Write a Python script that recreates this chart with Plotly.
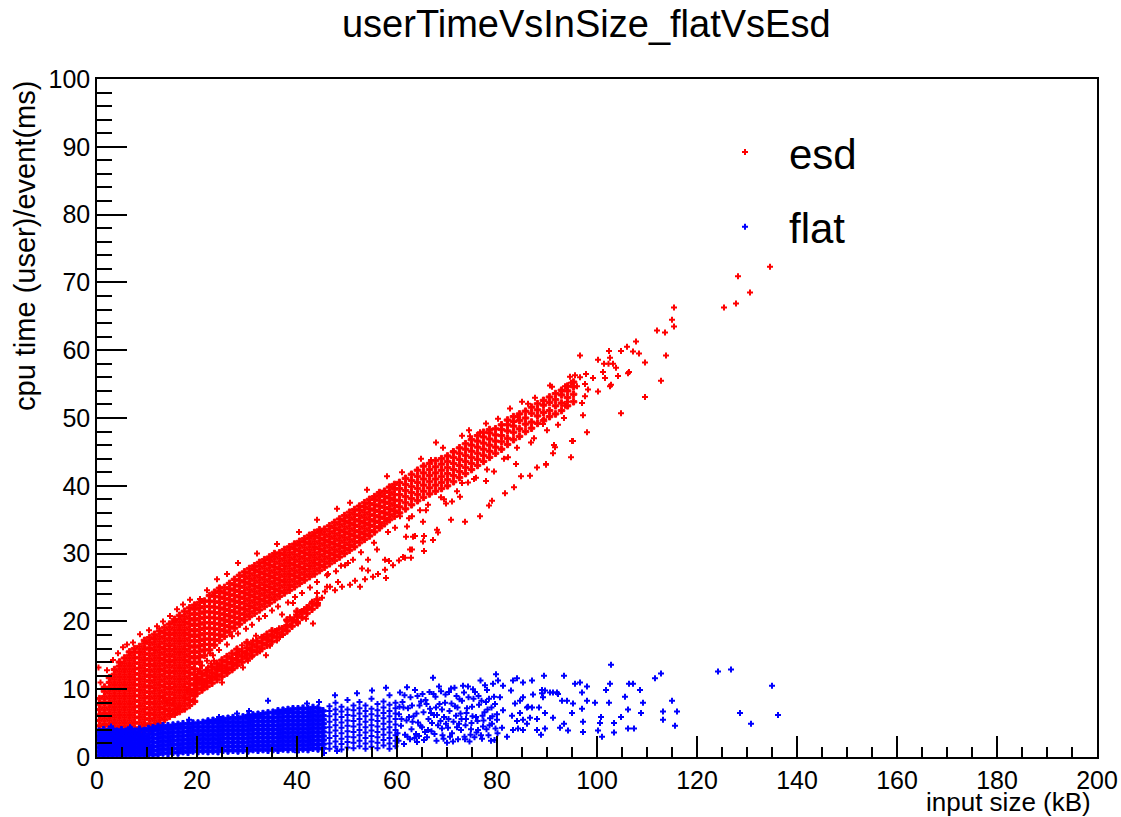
import plotly.graph_objects as go

# esd (red) - dense part: x of a column, then its y values
esd_core_x = [0.5, 1.5, 2.5, 3.5, 4.5, 5.5, 6.5, 7.5, 8.5, 9.5,
              10.5, 11.5, 12.5, 13.5, 14.5, 15.5, 16.5, 17.5, 18.5, 19.5]
esd_core_y = [
    [3.0, 3.8, 4.6, 5.4, 6.2, 7.0, 7.8, 8.6],
    [3.3, 4.1, 4.9, 5.7, 6.5, 7.3, 8.1, 8.9, 9.7, 10.3],
    [3.0, 3.8, 4.6, 5.4, 6.2, 7.0, 7.8, 8.6, 9.4, 10.2, 11.0, 11.7],
    [3.4, 4.2, 5.0, 5.8, 6.6, 7.4, 8.2, 9.0, 9.8, 10.6, 11.4, 12.2, 12.9],
    [3.0, 3.8, 4.6, 5.4, 6.2, 7.0, 7.8, 8.6, 9.4, 10.2, 11.0, 11.8, 12.6, 13.4, 14.0],
    [3.4, 4.2, 5.0, 5.8, 6.6, 7.4, 8.2, 9.0, 9.8, 10.6, 11.4, 12.2, 13.0, 13.8, 14.6],
    [3.0, 3.8, 4.6, 5.4, 6.2, 7.0, 7.8, 8.6, 9.4, 10.2, 11.0, 11.8, 12.6, 13.4, 14.2, 15.0, 15.5],
    [3.4, 4.2, 5.0, 5.8, 6.6, 7.4, 8.2, 9.0, 9.8, 10.6, 11.4, 12.2, 13.0, 13.8, 14.6, 15.4, 16.0],
    [3.5, 4.3, 5.1, 5.9, 6.7, 7.5, 8.3, 9.1, 9.9, 10.7, 11.5, 12.3, 13.1, 13.9, 14.7, 15.5, 16.3],
    [3.9, 4.7, 5.5, 6.3, 7.1, 7.9, 8.7, 9.5, 10.3, 11.1, 11.9, 12.7, 13.5, 14.3, 15.1, 15.9, 16.7, 17.2],
    [4.1, 4.9, 5.7, 6.5, 7.3, 8.1, 8.9, 9.7, 10.5, 11.3, 12.1, 12.9, 13.7, 14.5, 15.3, 16.1, 16.9, 17.6],
    [4.6, 5.4, 6.2, 7.0, 7.8, 8.6, 9.4, 10.2, 11.0, 11.8, 12.6, 13.4, 14.2, 15.0, 15.8, 16.6, 17.4, 18.1],
    [5.0, 5.8, 6.6, 7.4, 8.2, 9.0, 9.8, 10.6, 11.4, 12.2, 13.0, 13.8, 14.6, 15.4, 16.2, 17.0, 17.8, 18.6],
    [5.5, 6.3, 7.1, 7.9, 8.7, 9.5, 10.3, 11.1, 11.9, 12.7, 13.5, 14.3, 15.1, 15.9, 16.7, 17.5, 18.3, 19.1],
    [6.0, 6.8, 7.6, 8.4, 9.2, 10.0, 10.8, 11.6, 12.4, 13.2, 14.0, 14.8, 15.6, 16.4, 17.2, 18.0, 18.8, 19.6],
    [6.3, 7.1, 7.9, 8.7, 9.5, 10.3, 11.1, 11.9, 12.7, 13.5, 14.3, 15.1, 15.9, 16.7, 17.5, 18.3, 19.1, 19.9, 20.3],
    [6.7, 7.5, 8.3, 9.1, 9.9, 10.7, 11.5, 12.3, 13.1, 13.9, 14.7, 15.5, 16.3, 17.1, 17.9, 18.7, 19.5, 20.3, 20.9],
    [7.1, 7.9, 8.7, 9.5, 10.3, 11.1, 11.9, 12.7, 13.5, 14.3, 15.1, 15.9, 16.7, 17.5, 18.3, 19.1, 19.9, 20.7, 21.5],
    [7.6, 8.4, 9.2, 10.0, 10.8, 11.6, 12.4, 13.2, 14.0, 14.8, 15.6, 16.4, 17.2, 18.0, 18.8, 19.6, 20.4, 21.2, 22.0],
    [8.2, 9.0, 9.8, 10.6, 11.4, 12.2, 13.0, 13.8, 14.6, 15.4, 16.2, 17.0, 17.8, 18.6, 19.4, 20.2, 21.0, 21.8, 22.4],
]

esd_band_x = [20.5, 21.5, 22.5, 23.5, 24.5, 25.5, 26.5, 27.5, 28.5, 29.5,
              30.5, 31.5, 32.5, 33.5, 34.5, 35.5, 36.5, 37.5, 38.5, 39.5,
              40.5, 41.5, 42.5, 43.5, 44.5, 45.5, 46.5, 47.5, 48.5, 49.5,
              50.5, 51.5, 52.5, 53.5, 54.5, 55.5, 56.5, 57.5, 58.5, 59.5]
esd_band_y = [
    [14.0, 14.8, 15.6, 16.4, 17.2, 18.0, 18.8, 19.6, 20.4, 21.2, 22.0, 22.8],
    [15.0, 15.8, 16.6, 17.4, 18.2, 19.0, 19.8, 20.6, 21.4, 22.2, 23.0],
    [15.8, 16.6, 17.4, 18.2, 19.0, 19.8, 20.6, 21.4, 22.2, 23.0, 23.8],
    [16.5, 17.3, 18.1, 18.9, 19.7, 20.5, 21.3, 22.1, 22.9, 23.7, 24.3],
    [17.2, 18.0, 18.8, 19.6, 20.4, 21.2, 22.0, 22.8, 23.6, 24.4, 24.9],
    [17.8, 18.6, 19.4, 20.2, 21.0, 21.8, 22.6, 23.4, 24.2, 25.0],
    [18.4, 19.2, 20.0, 20.8, 21.6, 22.4, 23.2, 24.0, 24.8, 25.6],
    [19.0, 19.8, 20.6, 21.4, 22.2, 23.0, 23.8, 24.6, 25.4, 26.2],
    [19.6, 20.4, 21.2, 22.0, 22.8, 23.6, 24.4, 25.2, 26.0, 26.8],
    [20.2, 21.0, 21.8, 22.6, 23.4, 24.2, 25.0, 25.8, 26.6, 27.3],
    [20.7, 21.5, 22.3, 23.1, 23.9, 24.7, 25.5, 26.3, 27.1, 27.8],
    [21.2, 22.0, 22.8, 23.6, 24.4, 25.2, 26.0, 26.8, 27.6, 28.2],
    [21.7, 22.5, 23.3, 24.1, 24.9, 25.7, 26.5, 27.3, 28.1, 28.7],
    [22.2, 23.0, 23.8, 24.6, 25.4, 26.2, 27.0, 27.8, 28.6, 29.1],
    [22.7, 23.5, 24.3, 25.1, 25.9, 26.7, 27.5, 28.3, 29.1, 29.5],
    [23.2, 24.0, 24.8, 25.6, 26.4, 27.2, 28.0, 28.8, 29.6, 30.0],
    [23.7, 24.5, 25.3, 26.1, 26.9, 27.7, 28.5, 29.3, 30.1],
    [24.2, 25.0, 25.8, 26.6, 27.4, 28.2, 29.0, 29.8, 30.6],
    [24.6, 25.4, 26.2, 27.0, 27.8, 28.6, 29.4, 30.2, 31.0],
    [25.1, 25.9, 26.7, 27.5, 28.3, 29.1, 29.9, 30.7, 31.4],
    [25.6, 26.4, 27.2, 28.0, 28.8, 29.6, 30.4, 31.2, 31.8],
    [26.1, 26.9, 27.7, 28.5, 29.3, 30.1, 30.9, 31.7, 32.2],
    [26.6, 27.4, 28.2, 29.0, 29.8, 30.6, 31.4, 32.2, 32.7],
    [27.0, 27.8, 28.6, 29.4, 30.2, 31.0, 31.8, 32.6, 33.1],
    [27.5, 28.3, 29.1, 29.9, 30.7, 31.5, 32.3, 33.1, 33.5],
    [28.0, 28.8, 29.6, 30.4, 31.2, 32.0, 32.8, 33.6],
    [28.5, 29.3, 30.1, 30.9, 31.7, 32.5, 33.3, 34.1],
    [29.0, 29.8, 30.6, 31.4, 32.2, 33.0, 33.8, 34.6],
    [29.5, 30.3, 31.1, 31.9, 32.7, 33.5, 34.3, 35.1],
    [30.0, 30.8, 31.6, 32.4, 33.2, 34.0, 34.8, 35.6],
    [30.5, 31.3, 32.1, 32.9, 33.7, 34.5, 35.3, 36.1],
    [31.0, 31.8, 32.6, 33.4, 34.2, 35.0, 35.8, 36.5],
    [31.6, 32.4, 33.2, 34.0, 34.8, 35.6, 36.4, 37.0],
    [32.1, 32.9, 33.7, 34.5, 35.3, 36.1, 36.9, 37.5],
    [32.6, 33.4, 34.2, 35.0, 35.8, 36.6, 37.4, 38.0],
    [33.2, 34.0, 34.8, 35.6, 36.4, 37.2, 38.0, 38.4],
    [33.8, 34.6, 35.4, 36.2, 37.0, 37.8, 38.6, 39.0],
    [34.4, 35.2, 36.0, 36.8, 37.6, 38.4, 39.2],
    [35.0, 35.8, 36.6, 37.4, 38.2, 39.0, 39.8],
    [35.5, 36.3, 37.1, 37.9, 38.7, 39.5, 40.2],
]

esd_upper_x = [60.5, 61.7, 62.9, 64.1, 65.3, 66.5, 67.7, 68.9, 70.1, 71.3,
               72.5, 73.7, 74.9, 76.1, 77.3, 78.5, 79.7, 80.9, 82.1, 83.3,
               84.5, 85.7, 86.9, 88.1, 89.3, 90.5, 91.7, 92.9, 94.1, 95.3]
esd_upper_y = [
    [36.0, 36.9, 37.8, 38.7, 39.6, 40.5],
    [36.6, 37.5, 38.4, 39.3, 40.2, 41.1],
    [37.2, 38.1, 39.0, 39.9, 40.8, 41.7],
    [37.8, 38.7, 39.6, 40.5, 41.4, 42.3],
    [38.3, 39.2, 40.1, 41.0, 41.9, 42.9],
    [38.8, 39.7, 40.6, 41.5, 42.4, 43.3],
    [39.2, 40.1, 41.0, 41.9, 42.8, 43.7],
    [39.6, 40.5, 41.4, 42.3, 43.2, 44.0],
    [40.0, 40.9, 41.8, 42.7, 43.6, 44.4],
    [40.6, 41.5, 42.4, 43.3, 44.2, 45.0],
    [41.2, 42.1, 43.0, 43.9, 44.8, 45.6],
    [41.8, 42.7, 43.6, 44.5, 45.4, 46.2],
    [42.4, 43.3, 44.2, 45.1, 46.0, 46.8],
    [43.0, 43.9, 44.8, 45.7, 46.6, 47.4],
    [43.6, 44.5, 45.4, 46.3, 47.2, 47.9],
    [44.2, 45.1, 46.0, 46.9, 47.8, 48.3],
    [44.8, 45.7, 46.6, 47.5, 48.4],
    [45.4, 46.5, 47.4, 48.3, 49.0],
    [46.1, 47.0, 48.1, 49.0, 49.7],
    [46.8, 47.9, 48.8, 49.5, 50.2],
    [47.3, 48.4, 49.6, 50.6],
    [48.0, 49.1, 50.0, 51.0],
    [48.5, 49.4, 50.7, 51.6],
    [49.2, 50.3, 51.2, 52.1],
    [49.6, 50.8, 51.9, 52.6],
    [50.2, 51.1, 52.3, 53.1],
    [50.6, 51.8, 52.7, 53.6],
    [51.1, 52.2, 53.4, 54.1],
    [51.8, 53.0, 54.0, 54.7],
    [52.4, 53.5, 54.6, 55.3],
]

# esd - the lower branch below the main band (x 20-44)
esd_lower_x = [20.0, 21.0, 22.0, 23.0, 24.0, 25.0, 26.0, 27.0, 28.0, 29.0, 30.0, 31.0, 32.0,
               33.0, 34.0, 35.0, 36.0, 37.0, 38.0, 39.0, 40.0, 41.0, 42.0, 43.0, 44.0]
esd_lower_y = [
    [9.4, 10.2, 11.0, 11.8], [9.9, 10.7, 11.5, 12.3], [10.4, 11.2, 12.0, 12.8],
    [10.9, 11.7, 12.5, 13.3], [11.4, 12.2, 13.0, 13.8], [11.9, 12.7, 13.5, 14.3],
    [12.4, 13.2, 14.0, 14.8], [12.9, 13.7, 14.5, 15.3], [13.5, 14.3, 15.1, 15.9],
    [14.0, 14.8, 15.6], [14.5, 15.3, 16.1, 16.9], [15.0, 15.8, 16.6], [15.5, 16.3, 17.1],
    [16.0, 16.8, 17.6], [16.5, 17.3, 18.1], [17.0, 17.8, 18.6], [17.6, 18.4], [18.1, 18.9],
    [18.6, 19.4, 20.2], [19.3, 20.1], [19.9, 20.7, 21.5], [20.6, 21.4], [21.2, 22.0],
    [21.8, 22.6], [22.4, 23.2],
]

# esd - loose points along the branch and between it and the main band
esd_branch = [
    (14.0, 8.0), (13.2, 8.8), (15.2, 7.9), (16.2, 7.3), (15.6, 6.5), (14.6, 6.4), (17.6, 8.8),
    (18.6, 9.5), (19.2, 8.3), (20.0, 10.8), (21.2, 10.2), (22.6, 11.6), (25.0, 11.0), (26.0, 12.3),
    (26.2, 12.8), (28.0, 13.9), (29.2, 13.2), (30.2, 14.2), (28.0, 15.4), (29.0, 16.5), (25.0, 14.2),
    (24.0, 12.8), (22.2, 13.2), (20.6, 14.7), (22.6, 15.3), (31.2, 17.2), (32.0, 16.2), (33.8, 15.0),
    (33.2, 17.7), (35.0, 18.0), (36.6, 17.7), (37.2, 18.0), (38.6, 19.4), (40.2, 19.7), (43.2, 19.7),
    (39.2, 22.7), (43.0, 22.9), (44.2, 22.7), (40.6, 21.4), (40.2, 19.9), (38.6, 20.6), (44.0, 24.2),
    (46.0, 25.1), (46.6, 25.1), (49.0, 25.1), (50.6, 25.4), (52.6, 25.1), (55.2, 26.6), (57.6, 27.6),
    (59.2, 28.3), (57.8, 26.4), (61.6, 29.4), (62.8, 29.4), (63.0, 30.6), (62.6, 30.6), (65.2, 31.8),
    (65.4, 30.4), (67.2, 32.0), (68.2, 33.1), (70.8, 35.0), (73.6, 34.7), (76.6, 35.5), (78.4, 37.1),
    (79.0, 37.8), (81.6, 38.9), (83.4, 39.8), (84.8, 41.4), (86.6, 41.5), (88.0, 42.7), (89.8, 43.2),
    (91.2, 44.8), (91.4, 46.0), (94.8, 44.2), (95.0, 46.6), (104.8, 50.7), (109.6, 53.1),
    (112.8, 55.5), (113.8, 59.2),
    (18.0, 9.8), (19.5, 10.0), (20.5, 11.3), (21.5, 11.0), (23.0, 12.4), (23.8, 11.9), (24.5, 13.3),
    (25.7, 13.0), (26.8, 14.0), (27.3, 13.1), (27.8, 14.6), (29.6, 15.3), (30.6, 15.9), (31.0, 14.8),
    (31.8, 17.9), (32.6, 15.6), (33.0, 16.8), (34.2, 17.3), (34.6, 16.4), (35.6, 18.6), (36.0, 17.2),
    (36.4, 19.0), (37.8, 19.2), (38.0, 20.0), (39.4, 20.2), (39.8, 21.0), (41.4, 21.8), (41.8, 20.4),
    (42.4, 22.0), (45.0, 23.5), (45.6, 24.4), (47.6, 24.6), (48.2, 25.8), (51.6, 26.0), (53.6, 26.2),
    (54.2, 27.5), (56.2, 27.0), (58.4, 28.9), (60.4, 29.0),
    (20.2, 12.6), (21.0, 12.2), (21.8, 12.8), (22.8, 13.8), (23.4, 14.2), (20.6, 13.0),
    (21.0, 13.5), (22.0, 14.2), (23.2, 15.0), (24.4, 15.8), (26.0, 16.6), (27.0, 17.8), (28.2, 18.2),
    (29.8, 18.9), (31.0, 19.5), (32.4, 20.4), (33.6, 20.8), (35.0, 21.6), (36.2, 22.2), (37.0, 21.0),
    (38.2, 22.8), (39.6, 23.6), (41.0, 24.2), (42.6, 25.0), (44.0, 25.8), (46.0, 26.8), (47.8, 27.4),
    (49.6, 28.3), (51.2, 29.1), (54.2, 29.1), (57.6, 29.1), (61.2, 29.5), (63.2, 32.5), (65.2, 34.7),
    (68.0, 33.5), (56.8, 34.1), (46.2, 27.0), (48.8, 28.2), (50.2, 28.6), (52.8, 30.2), (55.4, 31.6),
    (58.2, 33.2), (53.0, 27.8), (56.0, 30.6),
    (83.8, 43.2), (82.2, 44.2), (86.8, 46.4), (79.4, 42.1), (77.8, 40.7), (75.8, 41.2), (73.0, 40.4),
    (74.2, 40.5), (72.6, 38.4), (71.0, 37.7), (69.8, 37.4), (68.8, 38.3), (65.8, 36.4), (63.0, 35.5),
    (62.0, 34.0), (59.6, 33.8), (60.6, 35.5), (58.0, 35.0), (63.6, 32.6), (65.4, 32.6), (61.8, 32.5),
    (62.4, 35.2), (64.6, 36.4), (66.2, 37.2), (69.4, 38.0), (72.0, 39.2), (75.4, 41.0), (78.0, 42.4),
    (81.4, 44.0), (84.0, 45.6), (87.4, 47.0), (90.0, 48.2), (93.4, 50.0), (98.0, 47.9), (95.2, 46.6),
    (91.6, 45.7), (89.8, 43.1),
]

# esd - points above the band and the sparse tail
esd_sparse = [
    (0.3, 13.2), (0.7, 11.0), (2.0, 12.8), (3.2, 14.3), (4.2, 15.3), (5.2, 16.2), (6.0, 16.6),
    (7.2, 16.9), (8.6, 18.1), (10.4, 18.7), (12.0, 19.3), (13.2, 20.0), (14.6, 20.8), (16.0, 21.8),
    (17.2, 22.5), (18.6, 23.2), (20.6, 23.3), (23.6, 24.2), (22.0, 24.6), (24.0, 26.2), (26.0, 27.0),
    (28.2, 28.6), (32.0, 30.0), (36.0, 31.4), (40.4, 33.2), (44.0, 35.0), (48.0, 36.6), (50.6, 37.5),
    (54.0, 39.4), (58.0, 41.4), (61.0, 42.0), (64.8, 44.0), (67.8, 46.4), (66.8, 43.8), (69.2, 45.6),
    (71.2, 45.1), (73.0, 47.4), (74.6, 47.3), (74.4, 48.2), (76.6, 47.9), (77.8, 49.2), (80.2, 49.9),
    (82.6, 51.4), (84.2, 50.1), (85.0, 52.4), (86.2, 52.1), (87.6, 53.0), (89.2, 49.1), (89.4, 49.8),
    (92.2, 49.0), (91.0, 54.6), (90.6, 54.8), (93.0, 53.9), (94.0, 52.4), (94.8, 55.2),
    (93.6, 51.8), (93.6, 54.7), (96.0, 54.7), (97.0, 52.2), (97.2, 50.4), (97.6, 53.2), (98.2, 54.2),
    (97.6, 55.0), (94.6, 56.1), (95.6, 56.3), (96.6, 56.0), (97.8, 56.5), (99.2, 55.9), (100.2, 53.9),
    (102.8, 54.9), (102.6, 54.7), (101.6, 55.9), (101.2, 56.8), (104.2, 56.2), (103.8, 57.4),
    (101.4, 58.0), (102.3, 58.0), (103.2, 58.0), (100.2, 58.6), (102.6, 58.9), (96.6, 59.2),
    (102.4, 59.9), (104.8, 59.9), (106.0, 60.5), (107.8, 61.3), (107.2, 59.8), (108.4, 59.5),
    (109.6, 58.2), (106.4, 56.8), (106.2, 56.6), (112.0, 62.9), (113.6, 62.6), (115.4, 63.5),
    (115.0, 64.5), (115.4, 66.3), (125.4, 66.3), (127.8, 66.9), (130.6, 68.5), (128.2, 70.9),
    (134.6, 72.3),
]

# flat (blue) - dense part, columns as above
flat_core_x = [0.4, 1.3, 2.2, 3.1, 4.0, 4.9, 5.8, 6.7, 7.6, 8.5, 9.4, 10.3, 11.2]
flat_core_y = [
    [0.2, 0.8, 1.4, 2.0, 2.6, 3.2, 3.8],
    [0.5, 1.1, 1.7, 2.3, 2.9, 3.5, 4.0],
    [0.2, 0.8, 1.4, 2.0, 2.6, 3.2, 3.8],
    [0.5, 1.1, 1.7, 2.3, 2.9, 3.5, 4.1],
    [0.2, 0.8, 1.4, 2.0, 2.6, 3.2, 3.8],
    [0.5, 1.1, 1.7, 2.3, 2.9, 3.5, 4.0],
    [0.2, 0.8, 1.4, 2.0, 2.6, 3.2, 3.8],
    [0.5, 1.1, 1.7, 2.3, 2.9, 3.5, 4.1],
    [0.2, 0.8, 1.4, 2.0, 2.6, 3.2, 3.8],
    [0.5, 1.1, 1.7, 2.3, 2.9, 3.5, 4.1],
    [0.2, 0.8, 1.4, 2.0, 2.6, 3.2, 3.9],
    [0.5, 1.1, 1.7, 2.3, 2.9, 3.5, 4.2],
    [0.3, 0.9, 1.5, 2.1, 2.7, 3.3, 3.9, 4.3],
]

flat_band_x = [12.2, 13.2, 14.2, 15.2, 16.2, 17.2, 18.2, 19.2, 20.2, 21.2,
               22.2, 23.2, 24.2, 25.2, 26.2, 27.2, 28.2, 29.2, 30.2, 31.2,
               32.2, 33.2, 34.2, 35.2, 36.2, 37.2, 38.2, 39.2, 40.2, 41.2,
               42.2, 43.2, 44.2, 45.2]
flat_band_y = [
    [0.4, 1.0, 1.6, 2.2, 2.8, 3.4, 4.0, 4.5],
    [0.6, 1.2, 1.8, 2.4, 3.0, 3.6, 4.2, 4.6],
    [0.5, 1.1, 1.7, 2.3, 2.9, 3.5, 4.1, 4.6],
    [0.7, 1.3, 1.9, 2.5, 3.1, 3.7, 4.3, 4.7],
    [0.6, 1.2, 1.8, 2.4, 3.0, 3.6, 4.2, 4.8],
    [0.8, 1.4, 2.0, 2.6, 3.2, 3.8, 4.4, 4.9],
    [0.7, 1.3, 1.9, 2.5, 3.1, 3.7, 4.3, 4.9],
    [0.9, 1.5, 2.1, 2.7, 3.3, 3.9, 4.5, 5.0],
    [0.8, 1.4, 2.0, 2.6, 3.2, 3.8, 4.4, 5.0],
    [0.9, 1.5, 2.1, 2.7, 3.3, 3.9, 4.5, 5.1],
    [0.8, 1.4, 2.0, 2.6, 3.2, 3.8, 4.4, 5.0, 5.3],
    [0.9, 1.5, 2.1, 2.7, 3.3, 3.9, 4.5, 5.1, 5.4],
    [0.8, 1.4, 2.0, 2.6, 3.2, 3.8, 4.4, 5.0, 5.5],
    [1.0, 1.6, 2.2, 2.8, 3.4, 4.0, 4.6, 5.2, 5.6],
    [0.9, 1.5, 2.1, 2.7, 3.3, 3.9, 4.5, 5.1, 5.7],
    [1.0, 1.6, 2.2, 2.8, 3.4, 4.0, 4.6, 5.2, 5.8],
    [0.9, 1.5, 2.1, 2.7, 3.3, 3.9, 4.5, 5.1, 5.7],
    [1.0, 1.6, 2.2, 2.8, 3.4, 4.0, 4.6, 5.2, 5.9],
    [0.9, 1.5, 2.1, 2.7, 3.3, 3.9, 4.5, 5.1, 5.7, 6.1],
    [1.1, 1.7, 2.3, 2.9, 3.5, 4.1, 4.7, 5.3, 5.9, 6.2],
    [1.0, 1.6, 2.2, 2.8, 3.4, 4.0, 4.6, 5.2, 5.8, 6.3],
    [1.1, 1.7, 2.3, 2.9, 3.5, 4.1, 4.7, 5.3, 5.9, 6.4],
    [1.0, 1.6, 2.2, 2.8, 3.4, 4.0, 4.6, 5.2, 5.8, 6.5],
    [1.1, 1.7, 2.3, 2.9, 3.5, 4.1, 4.7, 5.3, 5.9, 6.6],
    [1.0, 1.6, 2.2, 2.8, 3.4, 4.0, 4.6, 5.2, 5.8, 6.4, 6.8],
    [1.2, 1.8, 2.4, 3.0, 3.6, 4.2, 4.8, 5.4, 6.0, 6.6, 6.9],
    [1.1, 1.7, 2.3, 2.9, 3.5, 4.1, 4.7, 5.3, 5.9, 6.5, 7.0],
    [1.2, 1.8, 2.4, 3.0, 3.6, 4.2, 4.8, 5.4, 6.0, 6.6, 7.1],
    [1.1, 1.7, 2.3, 2.9, 3.5, 4.1, 4.7, 5.3, 5.9, 6.5, 7.1],
    [1.2, 1.8, 2.4, 3.0, 3.6, 4.2, 4.8, 5.4, 6.0, 6.6, 7.2],
    [1.1, 1.7, 2.3, 2.9, 3.5, 4.1, 4.7, 5.3, 5.9, 6.5, 7.1],
    [1.3, 1.9, 2.5, 3.1, 3.7, 4.3, 4.9, 5.5, 6.1, 6.7, 7.3],
    [1.2, 1.8, 2.4, 3.0, 3.6, 4.2, 4.8, 5.4, 6.0, 6.6, 7.2],
    [1.3, 1.9, 2.5, 3.1, 3.7, 4.3, 4.9, 5.5, 6.1, 6.8],
]

flat_tail_x = [46.5, 47.7, 48.9, 50.1, 51.3, 52.5, 53.7, 54.9, 56.1, 57.3, 58.5, 59.7]
flat_tail_y = [
    [1.2, 2.0, 2.8, 3.6, 4.4, 5.2, 6.0, 6.8, 7.5],
    [1.5, 2.3, 3.1, 3.9, 4.7, 5.5, 6.3, 7.0, 8.0],
    [1.1, 1.9, 2.7, 3.5, 4.3, 5.1, 5.9, 6.7, 7.4],
    [1.4, 2.2, 3.0, 3.8, 4.6, 5.4, 6.2, 7.0, 8.4],
    [1.3, 2.1, 2.9, 3.7, 4.5, 5.3, 6.1, 6.9, 7.6],
    [1.6, 2.4, 3.2, 4.0, 4.8, 5.6, 6.4, 7.2, 8.1],
    [1.2, 2.0, 2.8, 3.6, 4.4, 5.2, 6.0, 6.8, 7.6],
    [1.5, 2.3, 3.1, 3.9, 4.7, 5.5, 6.3, 7.1, 8.6],
    [1.3, 2.1, 2.9, 3.7, 4.5, 5.3, 6.1, 6.9, 7.8],
    [1.7, 2.5, 3.3, 4.1, 4.9, 5.7, 6.5, 7.3, 8.2],
    [1.2, 2.0, 2.8, 3.6, 4.4, 5.2, 6.0, 6.8, 7.7, 9.1],
    [1.6, 2.4, 3.2, 4.0, 4.8, 5.6, 6.4, 7.2, 8.0],
]

# flat - scattered cloud at x 60-80
flat_cloud = [
    (60.3, 2.4), (60.8, 4.6), (60.4, 6.3), (61.1, 8.1), (60.6, 9.5), (61.6, 3.3), (61.9, 5.4),
    (62.2, 7.2), (61.4, 1.9), (62.6, 2.6), (62.9, 4.1), (63.3, 6.0), (62.7, 8.8), (63.6, 9.9),
    (63.8, 3.4), (64.2, 5.1), (64.5, 7.6), (64.0, 2.2), (65.0, 4.4), (65.3, 6.6), (65.7, 8.4),
    (65.1, 9.3), (66.0, 2.9), (66.3, 5.6), (66.6, 7.1), (66.9, 3.8), (67.2, 11.7), (67.4, 6.2),
    (67.7, 8.9), (67.9, 2.4), (68.2, 4.7), (68.5, 7.8), (68.8, 9.7), (69.1, 3.2), (69.4, 5.9),
    (69.6, 8.0), (70.0, 2.1), (70.2, 4.3), (70.5, 6.8), (70.8, 10.1), (71.0, 3.5), (71.3, 5.2),
    (71.6, 7.5), (71.9, 9.0), (72.2, 2.6), (72.4, 4.9), (72.7, 6.4), (73.0, 8.3), (73.2, 10.5),
    (73.5, 3.0), (73.8, 5.6), (74.0, 7.2), (74.2, 10.4), (74.5, 2.3), (74.8, 4.1), (75.1, 6.0),
    (75.3, 8.6), (75.6, 9.6), (75.9, 3.6), (76.1, 5.3), (76.4, 7.7), (76.7, 11.3), (77.0, 2.7),
    (77.2, 4.5), (77.5, 6.6), (77.8, 8.1), (78.0, 9.9), (78.3, 3.2), (78.6, 5.7), (78.9, 7.3),
    (79.2, 10.8), (79.5, 2.5), (79.7, 4.2), (80.0, 6.3), (79.4, 8.9),
    (60.1, 3.5), (61.3, 7.3), (62.1, 3.0), (63.1, 5.2), (64.4, 3.1), (64.8, 8.2), (66.2, 4.0),
    (67.0, 5.0), (68.0, 6.2), (69.0, 7.0), (69.8, 4.9), (70.6, 3.0), (71.8, 6.1), (72.8, 4.0),
    (73.9, 6.5), (74.9, 5.0), (76.2, 4.0), (77.3, 5.4), (78.1, 7.0), (79.0, 4.9),
    (60.9, 5.6), (61.5, 9.1), (62.4, 5.9), (63.0, 7.6), (63.5, 2.8), (64.1, 9.0), (64.7, 4.6),
    (65.4, 2.5), (65.9, 7.8), (66.5, 9.6), (66.8, 6.5), (67.5, 3.4), (67.8, 7.3), (68.4, 10.4),
    (68.7, 5.3), (69.3, 2.7), (69.7, 9.2), (70.3, 5.6), (70.9, 7.9), (71.2, 2.3), (71.5, 10.2),
    (72.0, 4.4), (72.5, 8.5), (72.9, 5.6), (73.4, 9.5), (73.7, 4.7), (74.3, 8.8), (74.7, 3.3),
    (75.0, 7.4), (75.5, 2.9), (75.8, 5.9), (76.3, 9.0), (76.8, 3.2), (77.1, 6.1), (77.6, 10.6),
    (77.9, 4.1), (78.4, 8.6), (78.8, 2.4), (79.1, 6.0), (79.6, 7.8), (80.1, 3.5), (60.5, 7.4),
    (62.0, 10.3), (63.9, 6.4), (65.6, 3.7), (67.3, 9.3), (69.0, 4.2), (70.4, 9.6), (72.1, 7.3),
    (73.6, 2.6), (75.2, 10.0), (76.9, 8.3), (78.5, 4.7),
]

# flat - loose points
flat_sparse = [
    (2.8, 4.5), (6.6, 4.4), (18.4, 5.5), (24.4, 5.9), (28.0, 6.4), (30.4, 6.8), (34.2, 8.3),
    (42.0, 7.9), (44.4, 8.1), (47.6, 9.1), (52.0, 9.4), (55.0, 9.8), (57.8, 10.2), (45.4, 0.6),
    (40.0, 0.7), (48.0, 0.9),
    (80.6, 8.8), (81.2, 6.9), (80.0, 5.5), (81.0, 4.3), (82.0, 3.0), (83.2, 4.0), (85.2, 4.0),
    (85.2, 5.5), (86.2, 7.4), (88.0, 4.0), (89.0, 9.4), (79.8, 12.2), (81.2, 10.5), (80.2, 11.3),
    (83.2, 11.3), (84.0, 11.6), (82.8, 9.8), (84.6, 8.3), (83.6, 7.9), (83.0, 6.1), (84.0, 5.3),
    (84.2, 4.2), (84.6, 6.5), (85.2, 11.0), (85.2, 8.8), (86.0, 7.3), (86.6, 5.8), (86.0, 4.9),
    (87.0, 11.3), (87.2, 9.2), (87.0, 7.3), (88.4, 7.3), (89.6, 6.5), (91.2, 5.8), (88.8, 3.3),
    (89.6, 4.2), (88.0, 5.6), (89.4, 12.0), (89.0, 9.9), (89.6, 9.8), (89.2, 8.8), (91.2, 9.5),
    (92.0, 9.5), (90.6, 9.5), (93.0, 8.3), (94.0, 8.3), (92.2, 9.3), (93.4, 12.0), (93.4, 4.9),
    (94.2, 3.9), (92.6, 4.3), (95.2, 7.9), (95.0, 6.5), (96.6, 11.0), (95.6, 10.8), (97.0, 9.5),
    (98.0, 8.3), (97.0, 7.1), (97.2, 5.2), (97.2, 3.7), (98.0, 10.4), (99.6, 8.0), (100.8, 5.9),
    (100.6, 5.0), (100.2, 3.9), (101.0, 3.0), (102.6, 10.8), (101.8, 9.9), (102.4, 8.0),
    (102.8, 13.6), (103.4, 5.0), (103.4, 3.6), (104.8, 5.9), (105.6, 8.9), (106.2, 7.0),
    (106.4, 10.8), (107.2, 10.8), (106.2, 4.2), (107.4, 4.2), (108.6, 9.9), (109.2, 8.0),
    (108.8, 6.5), (111.6, 11.6), (112.8, 12.3), (115.0, 8.3), (116.0, 6.7), (113.2, 6.7),
    (113.2, 5.5), (115.6, 4.6), (124.2, 12.6), (126.8, 12.9), (135.0, 10.5), (128.6, 6.5),
    (130.8, 4.9), (136.2, 6.2),
]


def from_columns(column_sets):
    xs, ys = [], []
    for col_x, col_y in column_sets:
        for x, col in zip(col_x, col_y):
            xs += [x] * len(col)
            ys += col
    return xs, ys


def from_pairs(pairs):
    return [p[0] for p in pairs], [p[1] for p in pairs]


esd_dense_x, esd_dense_y = from_columns([(esd_core_x, esd_core_y), (esd_band_x, esd_band_y),
                                         (esd_upper_x, esd_upper_y), (esd_lower_x, esd_lower_y)])
esd_loose_x, esd_loose_y = from_pairs(esd_branch + esd_sparse)
flat_dense_x, flat_dense_y = from_columns([(flat_core_x, flat_core_y), (flat_band_x, flat_band_y)])
tail_x, tail_y = from_columns([(flat_tail_x, flat_tail_y)])
cloud_x, cloud_y = from_pairs(flat_cloud + flat_sparse)
flat_loose_x, flat_loose_y = tail_x + cloud_x, tail_y + cloud_y

font = "Liberation Sans, Arial, sans-serif"
RED = "#ff0000"
BLUE = "#0000ff"

fig = go.Figure()
# dense parts get a slightly heavier cross so the packed areas read as solid, like the original
fig.add_trace(go.Scatter(x=esd_dense_x, y=esd_dense_y, mode="markers", name="esd", legendgroup="esd",
                         showlegend=False, hoverinfo="skip",
                         marker=dict(symbol="cross", size=5.5, color=RED, line=dict(width=1, color=RED))))
fig.add_trace(go.Scatter(x=esd_loose_x, y=esd_loose_y, mode="markers", name="esd", legendgroup="esd",
                         marker=dict(symbol="cross", size=5, color=RED)))
fig.add_trace(go.Scatter(x=flat_dense_x, y=flat_dense_y, mode="markers", name="flat", legendgroup="flat",
                         showlegend=False, hoverinfo="skip",
                         marker=dict(symbol="cross", size=5.5, color=BLUE, line=dict(width=1, color=BLUE))))
fig.add_trace(go.Scatter(x=flat_loose_x, y=flat_loose_y, mode="markers", name="flat", legendgroup="flat",
                         marker=dict(symbol="cross", size=5, color=BLUE)))

axis_common = dict(ticks="inside", tickwidth=1.5, tickcolor="#000", showline=True, mirror=True,
                   linecolor="#000", linewidth=1.5, showgrid=False, zeroline=False, automargin=False,
                   tickfont=dict(family=font, size=25, color="#000"))

fig.update_layout(
    width=1121, height=817,
    margin=dict(l=97, r=24, t=79, b=60),
    paper_bgcolor="white", plot_bgcolor="white",
    title=dict(text="userTimeVsInSize_flatVsEsd", x=0.523, xanchor="center",
               y=0.971, yanchor="middle", font=dict(family=font, size=38, color="#000")),
    xaxis=dict(range=[0, 200], dtick=20, ticklen=21,
               minor=dict(dtick=5, ticklen=10, ticks="inside", tickwidth=1.5, tickcolor="#000"),
               **axis_common),
    yaxis=dict(range=[0, 100], dtick=10, ticklen=30,
               minor=dict(dtick=2, ticklen=15, ticks="inside", tickwidth=1.5, tickcolor="#000"),
               **axis_common),
    legend=dict(x=0.604, y=0.942, xanchor="left", yanchor="top", bgcolor="rgba(0,0,0,0)",
                font=dict(family=font, size=42, color="#000"), itemwidth=78, tracegroupgap=17),
    showlegend=True,
)

fig.add_annotation(text="cpu time (user)/event(ms)", textangle=-90, xref="paper", yref="paper",
                   x=-0.072, y=1.0, xanchor="center", yanchor="top", showarrow=False,
                   font=dict(family=font, size=29, color="#000"))
fig.add_annotation(text="input size (kB)", xref="paper", yref="paper", x=0.996, y=-0.066,
                   xanchor="right", yanchor="middle", showarrow=False,
                   font=dict(family=font, size=26, color="#000"))

# drop the browser's default 8px page margin so the figure sits at the window's corner
fig.write_html("out.html", config={"displayModeBar": False},
               post_script="document.body.style.margin='0';document.body.style.overflow='hidden';")
